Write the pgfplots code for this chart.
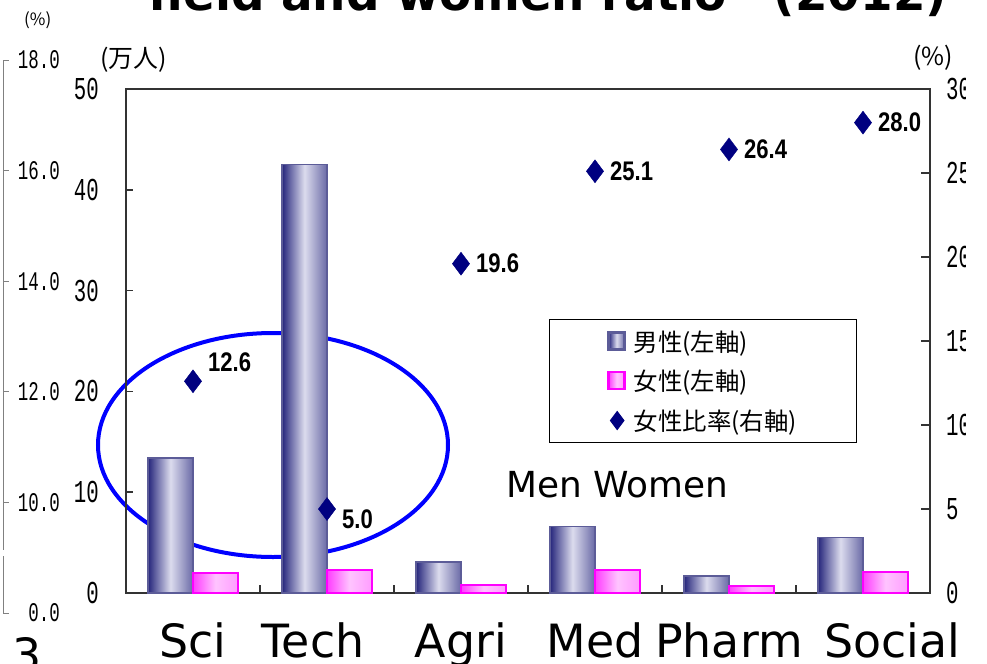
\documentclass[border=0pt]{standalone}
\usepackage{pgfplots}
\pgfplotsset{compat=1.18}
\usepackage{fontspec}
\setmainfont{DejaVu Sans}
\newfontfamily\jp{Noto Sans CJK JP}
\newfontfamily\nummono[FakeStretch=0.65]{Liberation Mono}
\newfontfamily\lblfont[FakeStretch=0.82]{Liberation Sans}
\definecolor{menDark}{HTML}{26267C}
\definecolor{menLight}{HTML}{DCDCEE}
\definecolor{menRight}{HTML}{6A6AA6}
\definecolor{menEdge}{HTML}{5C5C98}
\definecolor{wLeft}{HTML}{FF3CFF}
\definecolor{wMid}{HTML}{FFC4FF}
\definecolor{wRight}{HTML}{FF9CFF}
\definecolor{wEdge}{HTML}{FF00FF}
\definecolor{navy}{HTML}{000080}
\definecolor{frame}{HTML}{333333}

\newcommand{\lstrut}{\rule[-5bp]{0pt}{24bp}\hspace*{6bp}}

\tikzset{
 menfill/.style={draw=menEdge, line width=1.5bp, left color=menDark, right color=menRight, middle color=menLight},
 womenfill/.style={draw=wEdge, line width=1.8bp, left color=wLeft, right color=wRight, middle color=wMid}}
\pgfplotsset{
 menplot/.style={ybar, bar width=45bp, bar shift=-22.5bp, menfill, forget plot},
 womenplot/.style={ybar, bar width=45bp, bar shift=22.5bp, womenfill, forget plot}}

\begin{document}
\begin{tikzpicture}

% title (top part cut off)
\node[anchor=base, font=\fontsize{47}{47}\selectfont\bfseries, inner sep=0] at (548bp,-10bp) {field and women ratio" (2012)};

% annotation ellipse (behind bars)
\draw[blue, line width=4bp] (273bp,-445bp) ellipse [x radius=175bp, y radius=112bp];

% leftmost gray axis
\begin{axis}[at={(3bp,-613bp)}, anchor=south west, width=10bp, height=553bp, scale only axis,
  hide x axis, axis y line*=left, xmin=0, xmax=1, ymin=8, ymax=18,
  ytick={8,10,12,14,16,18}, yticklabels={0.0,10.0,12.0,14.0,16.0,18.0},
  y axis line style={gray, line width=1bp}, ytick style={gray, line width=1bp},
  tick align=inside, major tick length=6bp,
  yticklabel style={font=\nummono\fontsize{27}{27}\selectfont, anchor=east, inner sep=0pt, xshift=57bp}]
\addplot[draw=none] coordinates {(0,8)};
\end{axis}
\fill[white] (0bp,-550bp) rectangle (8bp,-556bp);

% main axis: bars (number of students, 10,000 persons)
\begin{axis}[at={(126bp,-593bp)}, anchor=south west, width=804bp, height=504bp, scale only axis,
  xmin=-0.5, xmax=5.5, ymin=0, ymax=50,
  /pgf/number format/assume math mode=true,
  axis line style={frame, line width=1.5bp},
  xtick={0,...,5}, xticklabels={Sci,Tech\hspace*{28bp},Agri,Med,Pharm,\hspace*{58bp}Social},
  major x tick style={draw=none},
  minor xtick={0.5,1.5,2.5,3.5,4.5}, minor tick length=8bp,
  minor x tick style={frame, line width=1.5bp},
  xtick pos=bottom, ytick pos=left,
  xticklabel style={font=\fontsize{46}{46}\selectfont, anchor=base, yshift=-64bp},
  ytick={0,10,...,50}, tick align=inside, major tick length=7bp,
  major y tick style={frame, line width=1.5bp},
  yticklabel style={font=\nummono\fontsize{32}{32}\selectfont, anchor=east, inner sep=0pt, xshift=-27bp}]
% men (left axis)
\addplot[menplot] coordinates {(0,13.4)};
\addplot[menplot] coordinates {(1,42.5)};
\addplot[menplot] coordinates {(2,3.1)};
\addplot[menplot] coordinates {(3,6.6)};
\addplot[menplot] coordinates {(4,1.7)};
\addplot[menplot] coordinates {(5,5.5)};
% women (left axis)
\addplot[womenplot] coordinates {(0,2.0)};
\addplot[womenplot] coordinates {(1,2.3)};
\addplot[womenplot] coordinates {(2,0.8)};
\addplot[womenplot] coordinates {(3,2.3)};
\addplot[womenplot] coordinates {(4,0.7)};
\addplot[womenplot] coordinates {(5,2.1)};
\end{axis}

% secondary axis: women ratio (%)
\begin{axis}[at={(126bp,-593bp)}, anchor=south west, width=804bp, height=504bp, scale only axis,
  xmin=-0.5, xmax=5.5, ymin=0, ymax=30,
  /pgf/number format/assume math mode=true,
  hide x axis, axis y line*=right,
  y axis line style={frame, line width=1.5bp},
  ytick={0,5,...,30}, tick align=inside, major tick length=9bp,
  ytick style={frame, line width=1.5bp},
  yticklabel style={font=\nummono\fontsize{32}{32}\selectfont, anchor=west, inner sep=0pt, xshift=16bp},
  legend style={at={(0.526,0.544)}, anchor=north west, draw=black, line width=1bp, fill=white,
    inner xsep=58bp, inner ysep=9.25bp, row sep=13.5bp, font=\jp\fontsize{24.5}{24.5}\selectfont},
  legend cell align=left,
  lbl/.style={only marks, mark=none, forget plot, nodes near coords, point meta=explicit symbolic,
    every node near coord/.append style={anchor=west, xshift=15bp, yshift=#1,
    font=\lblfont\bfseries\fontsize{27}{27}\selectfont, text=black, inner sep=0pt}}]
\addlegendimage{legend image code/.code={\draw[menfill, line width=2.5bp] (0bp,-8bp) rectangle (16bp,9bp);}}
\addlegendentry{\lstrut 男性(左軸)}
\addlegendimage{legend image code/.code={\draw[womenfill, line width=2.5bp] (0bp,-8bp) rectangle (16bp,9bp);}}
\addlegendentry{\lstrut 女性(左軸)}
\addplot[only marks, mark=diamond*, mark size=11.5bp, color=navy, mark options={solid, fill=navy},
  legend image post style={mark size=9bp}]
  coordinates {(0,12.6) (1,5.0) (2,19.6) (3,25.1) (4,26.4) (5,28.0)};
\addlegendentry{\lstrut 女性比率(右軸)}
% value labels
\addplot[lbl=19bp] coordinates {(0,12.6) [12.6]};
\addplot[lbl=-10bp] coordinates {(1,5.0) [5.0]};
\addplot[lbl=0bp] coordinates {(2,19.6) [19.6] (3,25.1) [25.1] (4,26.4) [26.4] (5,28.0) [28.0]};
\end{axis}

% unit labels and stray texts
\node[anchor=west, font=\jp\fontsize{25}{25}\selectfont, inner sep=0] at (100bp,-60bp) {(万人)};
\node[anchor=east, font=\jp\fontsize{25}{25}\selectfont, inner sep=0] at (953bp,-58bp) {(\%)};
\node[anchor=west, font=\jp\fontsize{17}{17}\selectfont, inner sep=0] at (24bp,-20bp) {(\%)};
\node[anchor=base west, font=\fontsize{36}{36}\selectfont, inner sep=0] at (506bp,-497bp) {Men Women};
\node[anchor=base west, font=\fontsize{46}{46}\selectfont, inner sep=0] at (12bp,-671bp) {3};

% right edge of the original image is cut
\fill[white] (966bp,-75bp) rectangle (987bp,-600bp);

\pgfresetboundingbox
\path[use as bounding box] (0bp,0bp) rectangle (987bp,-664bp);
\end{tikzpicture}
\end{document}
